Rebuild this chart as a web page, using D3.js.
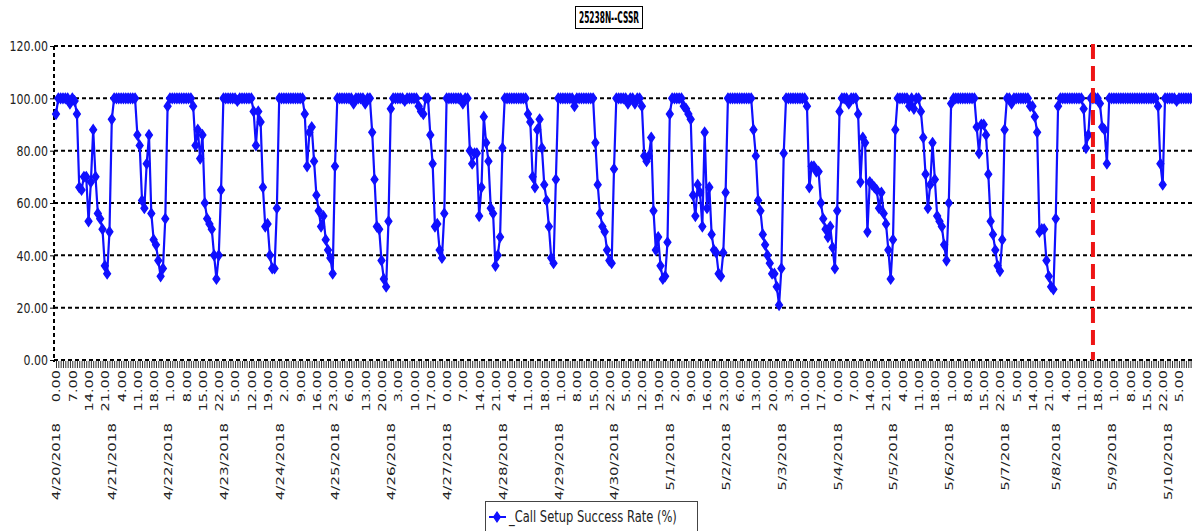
<!DOCTYPE html>
<html>
<head>
<meta charset="utf-8">
<script src="https://cdn.jsdelivr.net/npm/d3@7"></script>
<style>
body { margin: 0; background: #fff; }
text { font-family: "DejaVu Sans", sans-serif; fill: #222; }
</style>
</head>
<body>
<script>
var title = "25238N--CSSR";
var seriesName = "_Call Setup Success Rate (%)";

var dayLabels = ["4/20/2018", "4/21/2018", "4/22/2018", "4/23/2018", "4/24/2018", "4/25/2018", "4/26/2018",
  "4/27/2018", "4/28/2018", "4/29/2018", "4/30/2018", "5/1/2018", "5/2/2018", "5/3/2018", "5/4/2018",
  "5/5/2018", "5/6/2018", "5/7/2018", "5/8/2018", "5/9/2018", "5/10/2018"];
var hours = [0, 1, 2, 3, 4, 5, 6, 7, 8, 9, 10, 11, 12, 13, 14, 15, 16, 17, 18, 19, 20, 21, 22, 23];
var gapDay = "5/7/2018";      // two hours missing in the source data
var gapHours = [9, 10];
var lastDayHours = 11;        // 5/10 runs 0:00 - 10:00
var yTicks = [0, 20, 40, 60, 80, 100, 120];
var markerDay = "5/8/2018";   // red dashed line
var markerHour = 16;

// hourly CSSR (%), one row per day
var cssr = [
  94,100,100,100,100,100,98,100,99,94,66,65,70,70,53,68,88,70,56,54,50,36,33,49,
  92,100,100,100,100,100,100,100,100,100,100,86,82,61,58,75,86,56,46,44,38,32,35,54,
  97,100,100,100,100,100,100,100,100,100,100,97,82,88,77,86,60,54,52,50,40,31,40,65,
  100,100,100,100,100,100,99,100,100,100,100,100,100,95,82,95,91,66,51,52,40,35,35,58,
  100,100,100,100,100,100,100,100,100,100,100,94,74,87,89,76,63,57,51,55,46,42,39,33,
  74,100,100,100,100,100,100,100,98,100,100,100,100,98,100,100,87,69,51,50,38,31,28,53,
  96,100,100,100,100,100,99,100,100,100,100,100,97,95,94,100,100,86,75,51,52,42,39,56,
  100,100,100,100,100,100,100,98,100,100,80,75,79,79,55,66,93,83,76,58,56,36,40,47,
  81,100,100,100,100,100,100,100,100,100,100,94,91,70,66,88,92,81,67,61,51,39,37,69,
  100,100,100,100,100,100,100,97,100,100,100,100,100,100,100,100,83,67,56,51,49,42,38,37,
  73,100,100,100,100,100,98,100,100,98,100,100,97,78,76,78,85,57,42,47,36,31,32,45,
  94,100,100,100,100,100,97,96,94,92,63,55,67,64,51,87,58,66,48,42,41,33,32,41,
  64,100,100,100,100,100,100,100,100,100,100,100,88,78,61,57,48,44,40,37,33,33,28,21,
  35,79,100,100,100,100,100,100,100,100,100,97,66,74,74,72,72,60,54,50,47,51,43,35,
  57,95,100,100,100,98,100,100,100,94,68,85,83,49,68,67,66,65,58,64,56,52,42,31,
  46,88,100,100,100,100,100,97,100,96,100,100,95,85,71,58,67,83,69,55,53,51,44,38,
  60,98,100,100,100,100,100,100,100,100,100,100,89,79,90,90,86,71,53,48,42,36,34,46,
  88,100,100,98,100,100,100,100,100,100,100,97,97,93,87,49,50,50,38,32,28,27,
  54,97,100,100,100,100,100,100,100,100,100,100,96,81,86,100,100,100,100,98,89,88,75,100,
  100,100,100,100,100,100,100,100,100,100,100,100,100,100,100,100,100,100,100,100,97,75,67,100,
  100,100,100,100,99,100,100,100,100,100,100
];

// build the hourly categories
var cats = [];
dayLabels.forEach(function(day, di) {
  var hs = hours.filter(function(h) { return !(day === gapDay && gapHours.indexOf(h) >= 0); });
  if (di === dayLabels.length - 1) hs = hs.slice(0, lastDayHours);
  hs.forEach(function(h, k) { cats.push({day: day, hour: h, first: k === 0}); });
});

var W = 1192, H = 531;
var svg = d3.select("body").append("svg").attr("width", W).attr("height", H);

var x = d3.scalePoint()
  .domain(d3.range(cats.length))
  .range([56, 56 + 2.325 * (cats.length - 1)]);
var y = d3.scaleLinear().domain([0, 120]).range([360, 46]);

// dotted grid
svg.selectAll("line.grid").data(yTicks).enter().append("line")
  .attr("class", "grid")
  .attr("x1", 54).attr("x2", W)
  .attr("y1", function(d) { return y(d); }).attr("y2", function(d) { return y(d); })
  .attr("stroke", "#000").attr("stroke-width", 2).attr("stroke-dasharray", "4,3");
svg.append("line")
  .attr("x1", 54).attr("x2", 54).attr("y1", y(120)).attr("y2", y(0) + 2)
  .attr("stroke", "#000").attr("stroke-width", 2).attr("stroke-dasharray", "4,3");

// y axis
var yAxis = svg.append("g").attr("transform", "translate(54,0)")
  .call(d3.axisLeft(y).tickValues(yTicks).tickFormat(d3.format(".2f")).tickSizeInner(4).tickSizeOuter(0));
yAxis.select(".domain").remove();
yAxis.selectAll("text")
  .attr("x", -6).attr("dy", "0.32em")
  .attr("transform", "scale(1,1.35)")
  .style("font-size", "11px").style("font-family", "DejaVu Sans");

// x axis tick marks, one per hour
var xTicks = svg.append("g").attr("transform", "translate(0,361)")
  .call(d3.axisBottom(x).tickValues(d3.range(cats.length)).tickFormat("").tickSizeInner(7).tickSizeOuter(0));
xTicks.select(".domain").remove();
xTicks.selectAll("line").attr("stroke", "#333");

// hour labels every 7th category
var hourIdx = d3.range(cats.length).filter(function(i) { return i % 7 === 0; });
var xHours = svg.append("g").attr("transform", "translate(0,370)")
  .call(d3.axisBottom(x).tickValues(hourIdx)
    .tickFormat(function(i) { return cats[i].hour + ".00"; }).tickSize(0));
xHours.select(".domain").remove();
xHours.selectAll("text")
  .attr("x", 0).attr("y", 0).attr("dy", "0.36em")
  .attr("transform", "scale(1,1.32) rotate(-90)")
  .style("text-anchor", "end")
  .style("font-size", "11px").style("font-family", "DejaVu Sans");

// date labels at the first hour of each day
var dayIdx = d3.range(cats.length).filter(function(i) { return cats[i].first; });
var xDays = svg.append("g").attr("transform", "translate(0,423)")
  .call(d3.axisBottom(x).tickValues(dayIdx)
    .tickFormat(function(i) { return cats[i].day; }).tickSize(0));
xDays.select(".domain").remove();
xDays.selectAll("text")
  .attr("x", 0).attr("y", 0).attr("dy", "0.36em")
  .attr("transform", "scale(1,1.37) rotate(-90)")
  .style("text-anchor", "end")
  .style("font-size", "11px").style("font-family", "DejaVu Sans");

// series
var blue = "#1010ff";
var line = d3.line()
  .x(function(d, i) { return x(i); })
  .y(function(d) { return y(d); });
svg.append("path").datum(cssr)
  .attr("fill", "none").attr("stroke", blue).attr("stroke-width", 2.2)
  .attr("d", line);

var diamond = d3.symbol().type(d3.symbolDiamond).size(28);
svg.selectAll("path.pt").data(cssr).enter().append("path")
  .attr("class", "pt")
  .attr("d", diamond)
  .attr("transform", function(d, i) { return "translate(" + x(i) + "," + y(d) + ") scale(1.2,1)"; })
  .attr("fill", blue).attr("stroke", blue).attr("stroke-width", 1.2);

// red dashed marker
var markIdx = cats.findIndex(function(c) { return c.day === markerDay && c.hour === markerHour; });
svg.append("line")
  .attr("x1", x(markIdx)).attr("x2", x(markIdx))
  .attr("y1", y(120) - 2).attr("y2", y(0))
  .attr("stroke", "#ee1515").attr("stroke-width", 4).attr("stroke-dasharray", "15,7");

// title
svg.append("rect")
  .attr("x", 575.5).attr("y", 6.5).attr("width", 67).attr("height", 22)
  .attr("fill", "#fff").attr("stroke", "#000");
svg.append("text")
  .attr("transform", "translate(609,17) scale(1,1.35)")
  .attr("dy", "0.36em")
  .attr("text-anchor", "middle")
  .attr("textLength", 60).attr("lengthAdjust", "spacingAndGlyphs")
  .style("font-size", "12px").style("font-weight", "bold").style("fill", "#000")
  .text(title);

// legend
var lg = svg.append("g").attr("transform", "translate(485,501)");
lg.append("rect").attr("x", 0.5).attr("y", 0.5).attr("width", 212).attr("height", 40)
  .attr("fill", "#fff").attr("stroke", "#444");
lg.append("line").attr("x1", 4).attr("x2", 21).attr("y1", 16).attr("y2", 16)
  .attr("stroke", blue).attr("stroke-width", 2);
lg.append("path").attr("d", diamond).attr("transform", "translate(12,16) scale(1.2,1)")
  .attr("fill", blue).attr("stroke", blue);
lg.append("text")
  .attr("transform", "translate(24,16) scale(1,1.35)")
  .attr("dy", "0.35em")
  .style("font-size", "11.5px")
  .text(seriesName);
</script>
</body>
</html>
